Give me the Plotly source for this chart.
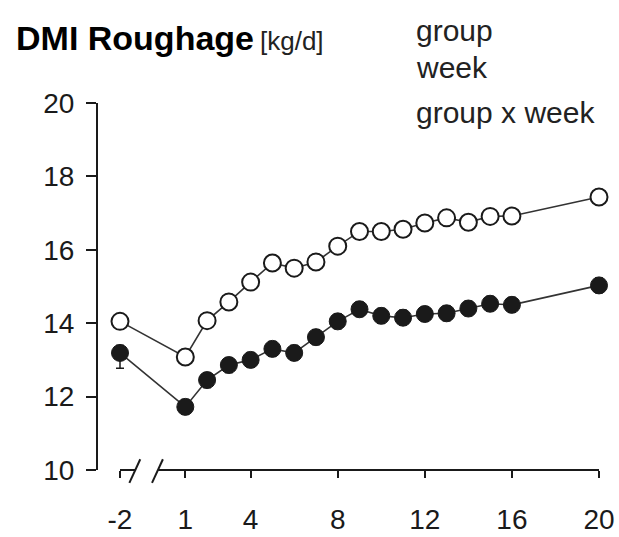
import plotly.graph_objects as go

# Weeks relative to calving (-2 = pre-trial baseline)
weeks = [-2, 1, 2, 3, 4, 5, 6, 7, 8, 9, 10, 11, 12, 13, 14, 15, 16, 20]

# Roughage dry matter intake, kg/d
dmi_open = [14.05, 13.08, 14.07, 14.58, 15.12, 15.64, 15.50, 15.67, 16.10,
            16.50, 16.50, 16.56, 16.73, 16.87, 16.75, 16.91, 16.92, 17.44]
dmi_filled = [13.19, 11.72, 12.45, 12.86, 13.00, 13.30, 13.19, 13.62, 14.05,
              14.38, 14.20, 14.15, 14.25, 14.27, 14.40, 14.53, 14.50, 15.03]
sem_open = [0.2] * len(weeks)
sem_filled_up = [0.2] * len(weeks)
sem_filled_down = [0.42] + [0.2] * (len(weeks) - 1)

x_ticks = [-2, 1, 4, 8, 12, 16, 20]
y_ticks = [10, 12, 14, 16, 18, 20]

FONT = "Liberation Sans, Arial, sans-serif"
INK = "#1a1a1a"
W, H = 619, 537

fig = go.Figure()
fig.add_trace(go.Scatter(
    x=weeks, y=dmi_open, mode="lines+markers", cliponaxis=False,
    line=dict(color="#333333", width=1.6),
    error_y=dict(type="data", array=sem_open, color=INK, thickness=1.5, width=4),
    marker=dict(symbol="circle", size=17, color="white",
                line=dict(color=INK, width=2)),
    showlegend=False))
fig.add_trace(go.Scatter(
    x=weeks, y=dmi_filled, mode="lines+markers", cliponaxis=False,
    line=dict(color="#333333", width=1.6),
    error_y=dict(type="data", symmetric=False, array=sem_filled_up,
                 arrayminus=sem_filled_down, color=INK, thickness=1.5, width=4),
    marker=dict(symbol="circle", size=17, color=INK,
                line=dict(color=INK, width=1)),
    showlegend=False))

# Horizontal scale: week -2 at 120 px, week 20 at 599 px, half a week of padding
px_per_week = (599 - 120) / 22
x_range = [-2.5, 20.5]
x_dom = [(120 - 0.5 * px_per_week) / W, (599 + 0.5 * px_per_week) / W]
y_dom = [1 - 470 / H, 1 - 103 / H]

fig.update_layout(
    width=W, height=H, margin=dict(l=0, r=0, t=0, b=0),
    paper_bgcolor="white", plot_bgcolor="white",
    font=dict(family=FONT, color=INK),
    xaxis=dict(domain=x_dom, range=x_range, anchor="free", position=y_dom[0],
               tickmode="array", tickvals=x_ticks, ticktext=[str(t) for t in x_ticks],
               showline=False, showgrid=False,
               zeroline=False, ticks="outside", ticklen=7, tickwidth=2,
               tickcolor=INK, tickfont=dict(size=28, family=FONT),
               ticklabelstandoff=17, automargin=False),
    yaxis=dict(domain=y_dom, range=[10, 20], anchor="free", position=97 / W,
               tickmode="array", tickvals=y_ticks, showline=True, linecolor=INK,
               linewidth=2, showgrid=False, zeroline=False, ticks="outside",
               ticklen=10, tickwidth=2, tickcolor=INK,
               tickfont=dict(size=28, family=FONT), ticklabelstandoff=6,
               automargin=False),
)

# Broken x axis line: short stub at week -2, then weeks 1..20
for x0, x1 in ((-2, -1.3), (-0.25, 20)):
    fig.add_shape(type="line", xref="x", yref="paper", x0=x0, x1=x1,
                  y0=y_dom[0], y1=y_dom[0], line=dict(color=INK, width=2),
                  layer="above")
for xc in (-1.32, -0.28):
    fig.add_shape(type="line", xref="x", yref="paper",
                  x0=xc - 0.25, x1=xc + 0.25,
                  y0=y_dom[0] - 0.024, y1=y_dom[0] + 0.02,
                  line=dict(color=INK, width=2), layer="above")

# Title and statistics labels
fig.add_annotation(x=14 / W, y=1 - 38 / H, xref="paper", yref="paper",
                   xanchor="left", yanchor="middle", showarrow=False,
                   text="<b>DMI Roughage</b>",
                   font=dict(size=34, family=FONT, color="#000000"))
fig.add_annotation(x=258 / W, y=1 - 41 / H, xref="paper", yref="paper",
                   xanchor="left", yanchor="middle", showarrow=False,
                   text="[kg/d]", font=dict(size=26, family=FONT, color="#222222"))
for txt, yp in (("group", 30), ("week", 68), ("group x week", 113)):
    fig.add_annotation(x=414 / W, y=1 - yp / H, xref="paper", yref="paper",
                       xanchor="left", yanchor="middle", showarrow=False,
                       text=txt, font=dict(size=30, family=FONT, color="#222222"))

fig.write_html("out.html")
